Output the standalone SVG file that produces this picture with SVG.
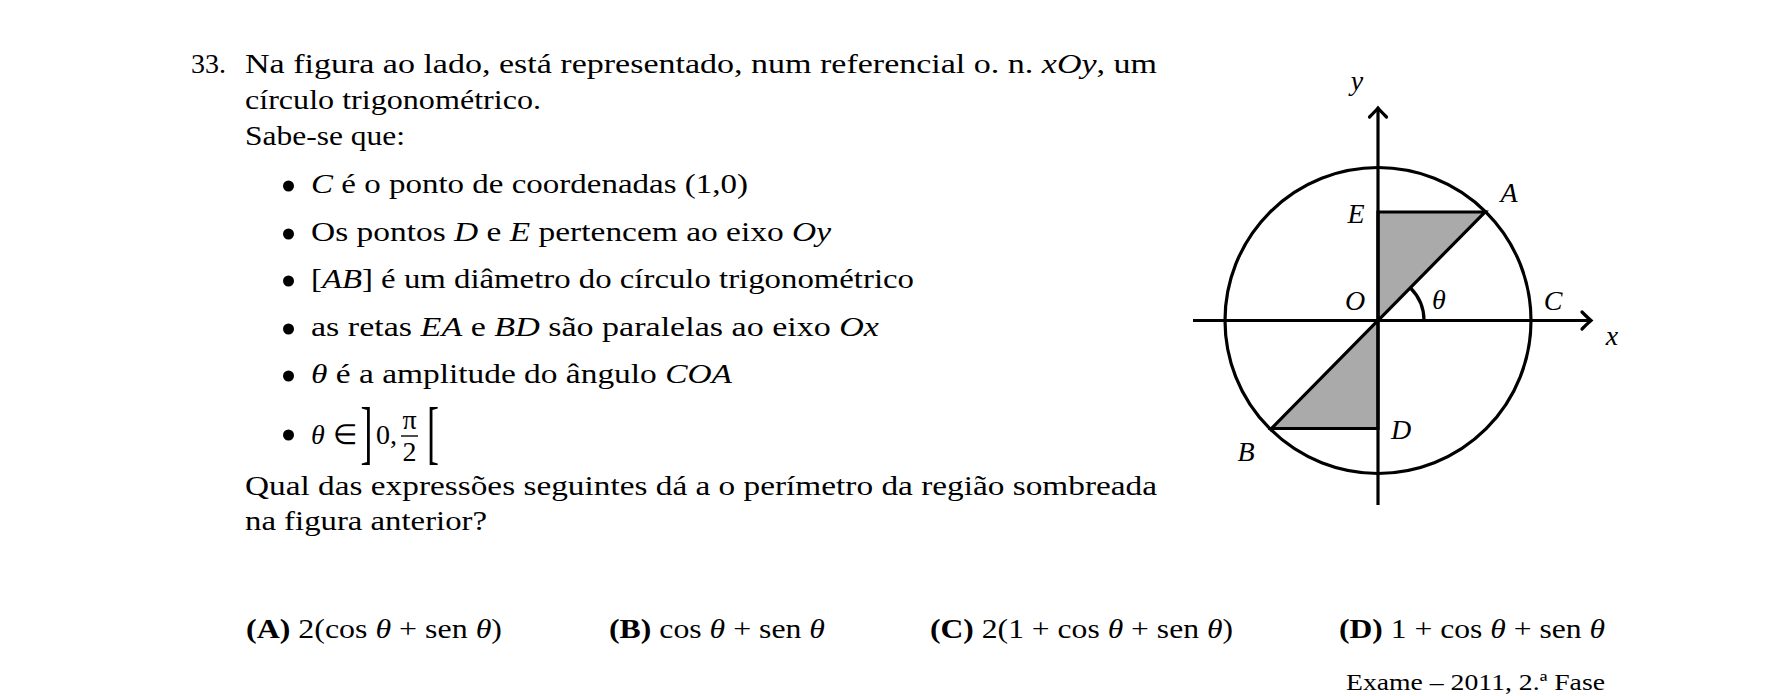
<svg xmlns="http://www.w3.org/2000/svg" width="1785" height="696" viewBox="0 0 1785 696">
<style>
  text { font-family: "Liberation Serif", "Times New Roman", serif; fill: #000; }
  .t { font-size: 28px; }
  .i { font-style: italic; }
  .b { font-weight: bold; }
  .lbl { font-size: 28px; font-style: italic; text-anchor: middle; }
  .small { font-size: 23px; }
  .br { font-size: 36px; }
  .ln { stroke: #000; stroke-width: 3.2; fill: none; }
  .shade { fill: #aaaaaa; stroke: #000; stroke-width: 3.2; stroke-linejoin: miter; }
</style>
<defs>
  <marker id="arr" markerUnits="userSpaceOnUse" markerWidth="24" markerHeight="24" refX="12" refY="12" orient="auto" overflow="visible">
    <path d="M 3,3.5 Q 9,9.5 12,12 Q 9,14.5 3,20.5" fill="none" stroke="#000" stroke-width="3.2" stroke-linecap="round"/>
  </marker>
</defs>
<rect width="1785" height="696" fill="#fff"/>

<g id="question">
  <text class="t" x="191" y="73">33.</text>
  <text class="t" x="245" y="73" textLength="912" lengthAdjust="spacingAndGlyphs">Na figura ao lado, está representado, num referencial o.  n.  <tspan class="i">xOy</tspan>, um</text>
  <text class="t" x="245" y="109" textLength="296" lengthAdjust="spacingAndGlyphs">círculo trigonométrico.</text>
  <text class="t" x="245" y="145" textLength="160" lengthAdjust="spacingAndGlyphs">Sabe-se que:</text>
</g>

<g id="bullets">
  <circle cx="288.5" cy="186" r="5.5"/>
  <text class="t" x="311" y="193" textLength="437" lengthAdjust="spacingAndGlyphs"><tspan class="i">C</tspan> é o ponto de coordenadas (1,0)</text>
  <circle cx="288.5" cy="234" r="5.5"/>
  <text class="t" x="311" y="241" textLength="520" lengthAdjust="spacingAndGlyphs">Os pontos <tspan class="i">D</tspan> e <tspan class="i">E</tspan> pertencem ao eixo <tspan class="i">Oy</tspan></text>
  <circle cx="288.5" cy="281" r="5.5"/>
  <text class="t" x="311" y="288" textLength="603" lengthAdjust="spacingAndGlyphs">[<tspan class="i">AB</tspan>] é um diâmetro do círculo trigonométrico</text>
  <circle cx="288.5" cy="329" r="5.5"/>
  <text class="t" x="311" y="336" textLength="568" lengthAdjust="spacingAndGlyphs">as retas <tspan class="i">EA</tspan> e <tspan class="i">BD</tspan> são paralelas ao eixo <tspan class="i">Ox</tspan></text>
  <circle cx="288.5" cy="376" r="5.5"/>
  <text class="t" x="311" y="383" textLength="421" lengthAdjust="spacingAndGlyphs"><tspan class="i">θ</tspan> é a amplitude do ângulo <tspan class="i">COA</tspan></text>
  <circle cx="288.5" cy="435" r="5.5"/>
  <text class="t i" x="311" y="444">θ</text>
  <text class="t" x="333" y="444" font-size="26">∈</text>
  <text class="br" transform="translate(360.5,456.2) scale(1,1.94)">]</text>
  <text class="t" x="376" y="444">0,</text>
  <text class="t" x="409.5" y="429" text-anchor="middle">π</text>
  <line x1="401" y1="436" x2="418" y2="436" stroke="#000" stroke-width="1.4"/>
  <text class="t" x="409.5" y="461" text-anchor="middle">2</text>
  <text class="br" transform="translate(427,456.2) scale(1,1.94)">[</text>
</g>

<g id="prompt">
  <text class="t" x="245" y="495" textLength="912" lengthAdjust="spacingAndGlyphs">Qual das expressões seguintes dá a o perímetro da região sombreada</text>
  <text class="t" x="245" y="530" textLength="242" lengthAdjust="spacingAndGlyphs">na figura anterior?</text>
</g>

<g id="options">
  <text class="t" x="246" y="638" textLength="256" lengthAdjust="spacingAndGlyphs"><tspan class="b">(A)</tspan> 2(cos <tspan class="i">θ</tspan> + sen <tspan class="i">θ</tspan>)</text>
  <text class="t" x="609" y="638" textLength="216" lengthAdjust="spacingAndGlyphs"><tspan class="b">(B)</tspan> cos <tspan class="i">θ</tspan> + sen <tspan class="i">θ</tspan></text>
  <text class="t" x="930" y="638" textLength="303" lengthAdjust="spacingAndGlyphs"><tspan class="b">(C)</tspan> 2(1 + cos <tspan class="i">θ</tspan> + sen <tspan class="i">θ</tspan>)</text>
  <text class="t" x="1339" y="638" textLength="266" lengthAdjust="spacingAndGlyphs"><tspan class="b">(D)</tspan> 1 + cos <tspan class="i">θ</tspan> + sen <tspan class="i">θ</tspan></text>
  <text class="small" x="1346" y="690" textLength="259" lengthAdjust="spacingAndGlyphs">Exame – 2011, 2.ª Fase</text>
</g>

<g id="figure">
  <g id="shaded-top">
    <polygon class="shade" points="1378,212 1485,212 1378,320.5"/>
  </g>
  <g id="shaded-bottom">
    <polygon class="shade" points="1378,428.5 1271.5,428.5 1378,320.5"/>
  </g>
  <g id="unit-circle">
    <circle class="ln" cx="1378" cy="320.5" r="153"/>
  </g>
  <g id="connectors">
    <line class="ln" x1="1193" y1="320.5" x2="1591" y2="320.5" marker-end="url(#arr)"/>
    <line class="ln" x1="1378" y1="505" x2="1378" y2="108" marker-end="url(#arr)"/>
    <path class="ln" stroke-width="2.2" d="M 1424,320.5 A 46,46 0 0 0 1410.5,288"/>
  </g>
  <g id="labels">
    <text class="lbl" x="1357" y="90">y</text>
    <text class="lbl" x="1509" y="202">A</text>
    <text class="lbl" x="1356" y="223">E</text>
    <text class="lbl" x="1355" y="310">O</text>
    <text class="lbl" x="1439" y="309">θ</text>
    <text class="lbl" x="1553" y="310">C</text>
    <text class="lbl" x="1612" y="345">x</text>
    <text class="lbl" x="1401" y="439">D</text>
    <text class="lbl" x="1246" y="461">B</text>
  </g>
</g>
</svg>
